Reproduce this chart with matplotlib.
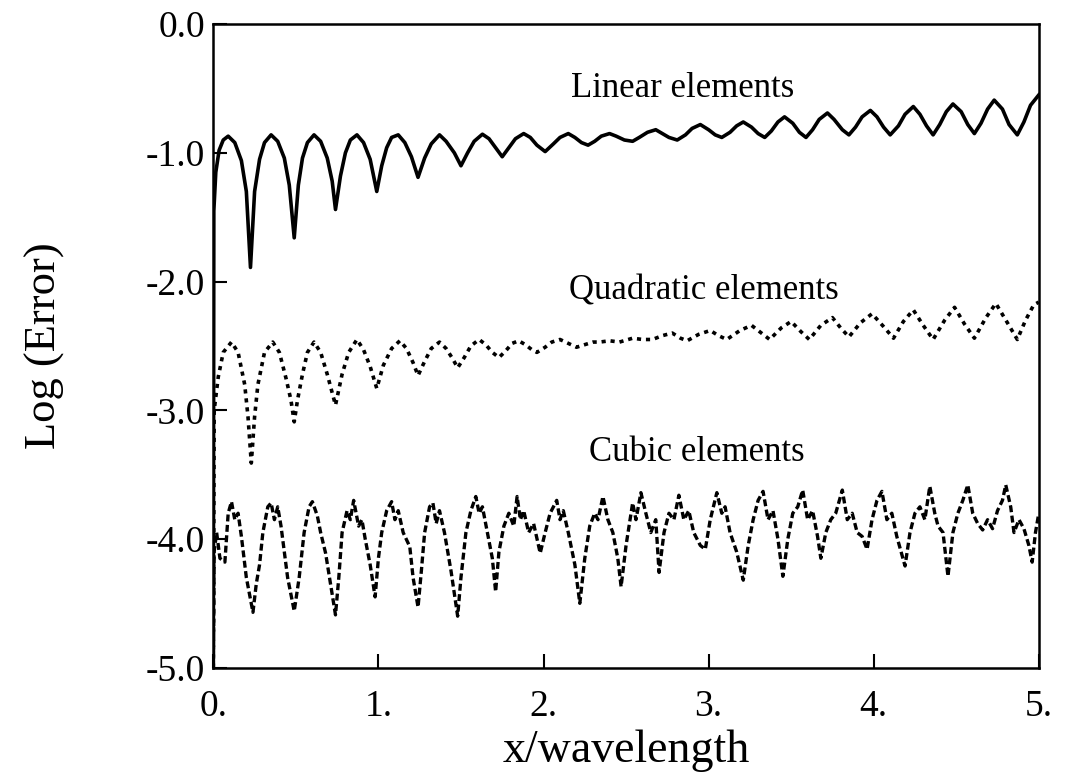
import matplotlib.pyplot as plt

plt.rcParams['font.family'] = ['Liberation Serif', 'DejaVu Serif']
plt.rcParams['axes.unicode_minus'] = False
plt.rcParams['lines.scale_dashes'] = False

# values: x/wavelength, log(error)
linear_x = [0.0, 0.003, 0.015, 0.035, 0.06, 0.09, 0.13, 0.17, 0.20, 0.225, 0.25, 0.28, 0.31, 0.35,
            0.39, 0.43, 0.46, 0.49, 0.515, 0.54, 0.57, 0.61, 0.65, 0.69, 0.72, 0.74, 0.77, 0.80,
            0.83, 0.87, 0.91, 0.95, 0.99, 1.02, 1.05, 1.08, 1.12, 1.16, 1.20, 1.24, 1.28, 1.32,
            1.37, 1.41, 1.46, 1.50, 1.54, 1.58, 1.63, 1.67, 1.71, 1.75, 1.79, 1.83, 1.88, 1.92,
            1.96, 2.01, 2.06, 2.10, 2.15, 2.19, 2.23, 2.27, 2.31, 2.35, 2.40, 2.44, 2.49, 2.54,
            2.58, 2.63, 2.68, 2.72, 2.76, 2.81, 2.86, 2.90, 2.95, 3.00, 3.04, 3.08, 3.13, 3.17,
            3.21, 3.26, 3.30, 3.34, 3.38, 3.42, 3.46, 3.51, 3.55, 3.59, 3.63, 3.67, 3.72, 3.76,
            3.81, 3.85, 3.89, 3.93, 3.98, 4.02, 4.06, 4.10, 4.15, 4.19, 4.24, 4.28, 4.32, 4.36,
            4.40, 4.44, 4.48, 4.53, 4.57, 4.61, 4.65, 4.69, 4.73, 4.78, 4.82, 4.87, 4.91, 4.95, 5.0]
linear_y = [-5.0, -1.45, -1.15, -0.98, -0.90, -0.87, -0.92, -1.06, -1.30, -1.89, -1.30, -1.05, -0.92, -0.86,
            -0.91, -1.04, -1.25, -1.66, -1.25, -1.04, -0.92, -0.86, -0.91, -1.04, -1.22, -1.44, -1.18, -1.00,
            -0.90, -0.86, -0.92, -1.05, -1.30, -1.10, -0.96, -0.88, -0.86, -0.92, -1.03, -1.19, -1.04, -0.93,
            -0.86, -0.91, -1.00, -1.10, -1.00, -0.91, -0.855, -0.89, -0.96, -1.03, -0.96, -0.89, -0.85, -0.88,
            -0.94, -0.99, -0.93, -0.88, -0.85, -0.88, -0.92, -0.94, -0.91, -0.87, -0.85, -0.87, -0.90, -0.91,
            -0.88, -0.84, -0.82, -0.85, -0.88, -0.90, -0.86, -0.81, -0.78, -0.82, -0.86, -0.88, -0.84, -0.79,
            -0.76, -0.80, -0.85, -0.88, -0.83, -0.76, -0.72, -0.77, -0.84, -0.88, -0.82, -0.74, -0.69, -0.74,
            -0.82, -0.86, -0.80, -0.72, -0.67, -0.72, -0.80, -0.86, -0.79, -0.70, -0.64, -0.70, -0.79, -0.86,
            -0.78, -0.68, -0.62, -0.68, -0.78, -0.85, -0.77, -0.66, -0.59, -0.66, -0.78, -0.86, -0.76, -0.63, -0.55]

quad_x = [0.0, 0.005, 0.03, 0.06, 0.11, 0.15, 0.19, 0.21, 0.23, 0.25, 0.27, 0.31, 0.36, 0.40, 0.44,
          0.47, 0.49, 0.51, 0.54, 0.57, 0.61, 0.65, 0.69, 0.74, 0.78, 0.82, 0.87, 0.91, 0.95, 0.99,
          1.03, 1.08, 1.13, 1.17, 1.21, 1.24, 1.28, 1.32, 1.37, 1.41, 1.45, 1.48, 1.52, 1.56, 1.61,
          1.65, 1.69, 1.73, 1.77, 1.81, 1.85, 1.89, 1.93, 1.96, 2.01, 2.05, 2.10, 2.15, 2.20, 2.25,
          2.30, 2.34, 2.40, 2.46, 2.54, 2.60, 2.66, 2.72, 2.78, 2.83, 2.87, 2.94, 3.01, 3.06, 3.11,
          3.19, 3.26, 3.32, 3.37, 3.44, 3.50, 3.56, 3.61, 3.68, 3.75, 3.80, 3.85, 3.92, 3.99, 4.06,
          4.12, 4.18, 4.24, 4.30, 4.36, 4.43, 4.49, 4.55, 4.61, 4.68, 4.74, 4.81, 4.87, 4.92, 4.97, 5.0]
quad_y = [-5.0, -3.0, -2.74, -2.55, -2.47, -2.55, -2.80, -3.05, -3.41, -3.05, -2.80, -2.55, -2.47, -2.55, -2.75,
          -2.92, -3.09, -2.92, -2.72, -2.55, -2.47, -2.55, -2.72, -2.96, -2.72, -2.55, -2.45, -2.53, -2.66, -2.83,
          -2.65, -2.52, -2.46, -2.52, -2.63, -2.73, -2.62, -2.52, -2.47, -2.52, -2.60, -2.67, -2.59, -2.50, -2.45,
          -2.49, -2.55, -2.59, -2.54, -2.48, -2.46, -2.49, -2.53, -2.55, -2.51, -2.47, -2.45, -2.48, -2.51, -2.49,
          -2.47, -2.47, -2.46, -2.47, -2.44, -2.45, -2.45, -2.42, -2.40, -2.44, -2.46, -2.41, -2.38, -2.42, -2.45,
          -2.38, -2.34, -2.40, -2.45, -2.36, -2.31, -2.39, -2.45, -2.34, -2.28, -2.36, -2.43, -2.32, -2.25, -2.35,
          -2.44, -2.31, -2.22, -2.34, -2.45, -2.30, -2.20, -2.33, -2.44, -2.28, -2.17, -2.32, -2.45, -2.30, -2.18, -2.16]

cubic_x = [0.0, 0.005, 0.02, 0.04, 0.07, 0.09, 0.11, 0.13, 0.15, 0.17, 0.20, 0.24, 0.26, 0.28, 0.30,
           0.33, 0.35, 0.37, 0.39, 0.41, 0.45, 0.49, 0.52, 0.55, 0.58, 0.60, 0.63, 0.65, 0.68, 0.71,
           0.74, 0.76, 0.78, 0.81, 0.83, 0.85, 0.88, 0.90, 0.92, 0.95, 0.98, 1.00, 1.02, 1.05, 1.08,
           1.10, 1.12, 1.15, 1.19, 1.21, 1.24, 1.26, 1.28, 1.31, 1.33, 1.35, 1.37, 1.40, 1.44, 1.48,
           1.50, 1.53, 1.56, 1.59, 1.61, 1.63, 1.66, 1.69, 1.71, 1.73, 1.76, 1.79, 1.82, 1.84, 1.86,
           1.88, 1.91, 1.94, 1.98, 2.01, 2.04, 2.08, 2.10, 2.12, 2.15, 2.19, 2.22, 2.25, 2.28, 2.31,
           2.33, 2.36, 2.39, 2.42, 2.45, 2.47, 2.50, 2.54, 2.56, 2.59, 2.62, 2.65, 2.68, 2.70, 2.73,
           2.76, 2.79, 2.82, 2.85, 2.88, 2.91, 2.95, 2.98, 3.01, 3.05, 3.08, 3.10, 3.13, 3.17, 3.21,
           3.24, 3.27, 3.30, 3.33, 3.36, 3.39, 3.42, 3.45, 3.48, 3.51, 3.54, 3.57, 3.60, 3.63, 3.66,
           3.68, 3.71, 3.74, 3.77, 3.81, 3.84, 3.87, 3.90, 3.93, 3.96, 3.99, 4.02, 4.05, 4.08, 4.11,
           4.14, 4.19, 4.22, 4.25, 4.28, 4.31, 4.34, 4.37, 4.39, 4.42, 4.45, 4.48, 4.51, 4.54, 4.57,
           4.60, 4.63, 4.66, 4.69, 4.72, 4.75, 4.78, 4.80, 4.83, 4.85, 4.88, 4.91, 4.94, 4.96, 4.98, 5.0]
cubic_y = [-5.0, -4.10, -3.95, -4.15, -4.18, -3.80, -3.71, -3.85, -3.80, -3.98, -4.30, -4.57, -4.35, -4.20, -3.95,
           -3.75, -3.72, -3.85, -3.75, -3.90, -4.30, -4.56, -4.30, -3.95, -3.75, -3.71, -3.82, -3.95, -4.11, -4.35,
           -4.59, -4.30, -3.95, -3.78, -3.85, -3.70, -3.90, -3.85, -4.00, -4.20, -4.45, -4.15, -3.95, -3.78, -3.71,
           -3.85, -3.78, -3.95, -4.06, -4.30, -4.53, -4.25, -3.95, -3.75, -3.72, -3.88, -3.78, -3.95, -4.25, -4.60,
           -4.30, -3.95, -3.78, -3.67, -3.80, -3.75, -3.95, -4.15, -4.41, -4.10, -3.90, -3.80, -3.90, -3.67, -3.85,
           -3.78, -3.95, -3.88, -4.11, -3.95, -3.80, -3.70, -3.85, -3.78, -3.95, -4.20, -4.50, -4.15, -3.90, -3.80,
           -3.85, -3.67, -3.85, -3.95, -4.15, -4.37, -4.05, -3.72, -3.85, -3.64, -3.80, -3.95, -3.85, -4.26, -3.95,
           -3.80, -3.85, -3.66, -3.85, -3.78, -3.95, -4.05, -4.08, -3.85, -3.64, -3.80, -3.75, -3.95, -4.10, -4.32,
           -4.05, -3.85, -3.70, -3.63, -3.85, -3.78, -4.00, -4.29, -4.00, -3.80, -3.75, -3.62, -3.85, -3.78, -3.98,
           -4.15, -3.95, -3.85, -3.80, -3.62, -3.85, -3.80, -3.95, -3.98, -4.08, -3.85, -3.70, -3.63, -3.85, -3.80,
           -3.98, -4.21, -3.95, -3.80, -3.75, -3.85, -3.59, -3.80, -3.90, -3.95, -4.29, -3.95, -3.80, -3.70, -3.58,
           -3.80, -3.88, -3.93, -3.85, -3.92, -3.78, -3.70, -3.58, -3.75, -3.95, -3.85, -3.92, -4.05, -4.18, -3.95, -3.80]

x_ticks = [0, 1, 2, 3, 4, 5]
x_tick_labels = ['0.', '1.', '2.', '3.', '4.', '5.']
y_ticks = [0, -1, -2, -3, -4, -5]
y_tick_labels = ['0.0', '-1.0', '-2.0', '-3.0', '-4.0', '-5.0']

fig = plt.figure(figsize=(10.72, 7.8), dpi=100)
ax = fig.add_axes([0.199, 0.144, 0.770, 0.825])

ax.plot(linear_x, linear_y, color='black', lw=2.6, solid_joinstyle='round')
ax.plot(quad_x, quad_y, color='black', lw=2.6, dashes=(3, 3.5))
ax.plot(cubic_x, cubic_y, color='black', lw=2.4, dashes=(5, 2.5))

ax.text(2.84, -0.50, 'Linear elements', fontsize=25, ha='center', va='center')
ax.text(2.97, -2.07, 'Quadratic elements', fontsize=25, ha='center', va='center')
ax.text(2.93, -3.33, 'Cubic elements', fontsize=25, ha='center', va='center')

ax.set_xlim(0, 5)
ax.set_ylim(-5, 0)
ax.set_xticks(x_ticks)
ax.set_xticklabels(x_tick_labels)
ax.set_yticks(y_ticks)
ax.set_yticklabels(y_tick_labels)
ax.tick_params(direction='in', length=10, width=1.5, labelsize=27)
ax.tick_params(axis='x', pad=16)
ax.tick_params(axis='y', pad=6)
for s in ax.spines.values():
    s.set_linewidth(1.8)

ax.set_xlabel('x/wavelength', fontsize=33, labelpad=4)
ax.set_ylabel('Log (Error)', fontsize=32, labelpad=58)

fig.savefig('out.png', dpi=100)
